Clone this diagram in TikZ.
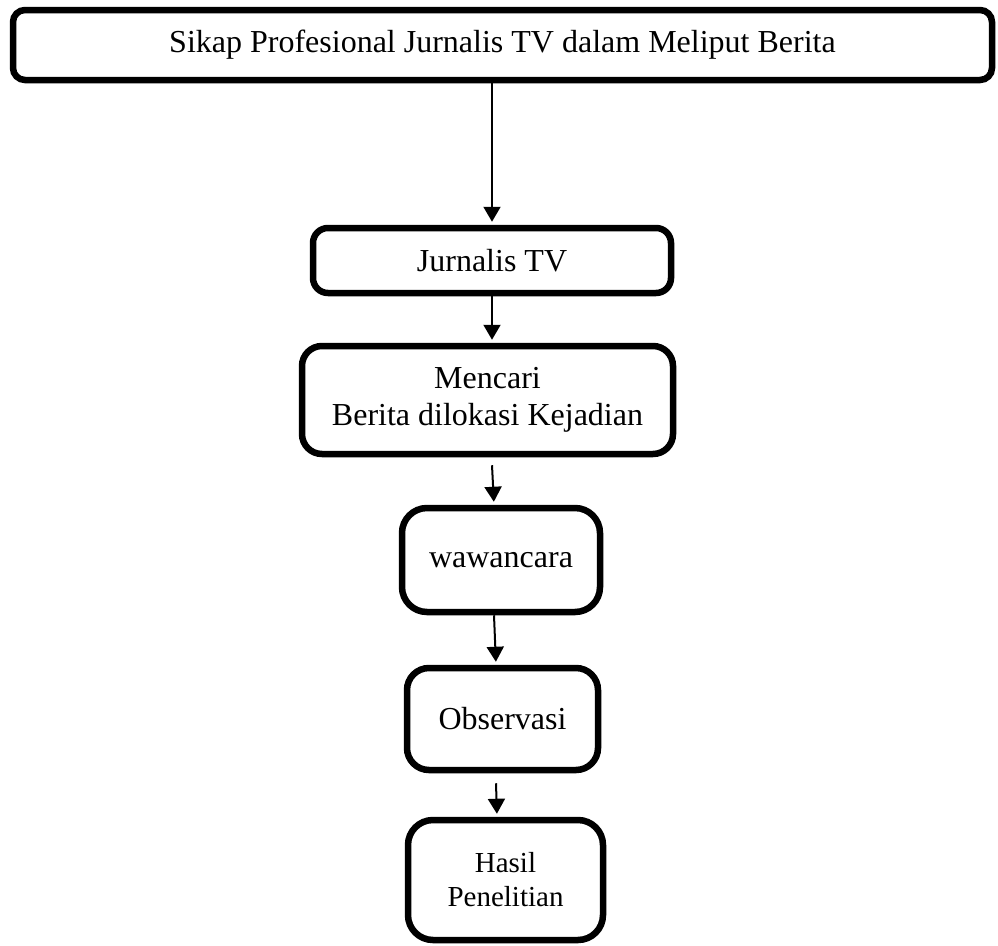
\documentclass[tikz,border=0pt]{standalone}
\usepackage{fontspec}
\setmainfont{Liberation Serif}
\usetikzlibrary{arrows.meta}
\begin{document}
\begin{tikzpicture}[x=1pt,y=-1pt,
  box/.style={draw=black,line width=6.5pt,rounded corners=#1,inner sep=0pt,align=center,
    font=\fontsize{32}{37}\selectfont},
  box/.default=18pt,
  arr/.style={line width=2pt,shorten >=3pt,-{Triangle[length=15pt,width=17pt]}}]
\useasboundingbox (0,0) rectangle (998,945);
\node[box=12pt,minimum width=979pt,minimum height=70pt] (top) at (502.5,45) {Sikap Profesional Jurnalis TV dalam Meliput Berita};
\node[box=15pt,minimum width=358pt,minimum height=65pt] (jtv) at (492,260.5) {Jurnalis TV};
\node[box=20pt,minimum width=371pt,minimum height=108pt] (mencari) at (487.5,400) {Mencari\\Berita dilokasi Kejadian};
\node[box=25pt,minimum width=198pt,minimum height=104pt] (waw) at (501,560) {wawancara};
\node[box=22pt,minimum width=191pt,minimum height=102pt] (obs) at (502.5,719) {Observasi};
\node[box=25pt,minimum width=195pt,minimum height=120pt,font=\fontsize{29}{34}\selectfont] (hasil) at (505.5,880) {Hasil\\Penelitian};
\draw[arr] (top.south -| jtv.north) -- (jtv.north);
\draw[arr] (jtv.south) -- (jtv.south |- mencari.north);
\draw[arr] ([xshift=4.5pt,yshift=-8pt]mencari.south) -- ([xshift=-7pt]waw.north);
\draw[arr] ([xshift=-7pt]waw.south) -- ([xshift=-6.5pt]obs.north);
\draw[arr] ([xshift=-6.5pt,yshift=-10pt]obs.south) -- ([xshift=-8.5pt]hasil.north);
\end{tikzpicture}
\end{document}
